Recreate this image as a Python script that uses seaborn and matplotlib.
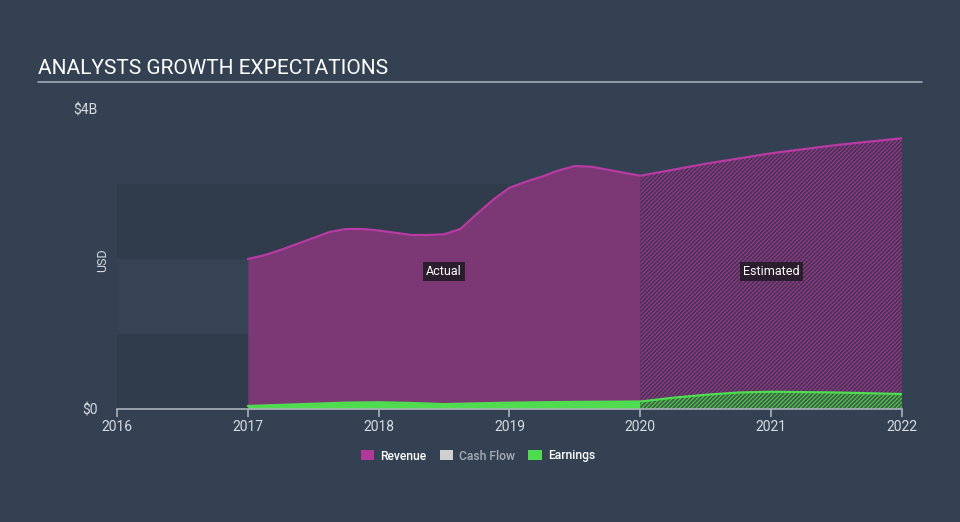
import matplotlib
matplotlib.use("Agg")
import matplotlib.pyplot as plt
import seaborn as sns
import pandas as pd
from matplotlib.patches import Patch

# ---- data (USD billions) ----
rev_act_x = [2017.0, 2017.125, 2017.25, 2017.375, 2017.5, 2017.625, 2017.75, 2017.875,
             2018.0, 2018.125, 2018.25, 2018.375, 2018.5, 2018.625, 2018.75, 2018.875,
             2019.0, 2019.125, 2019.25, 2019.375, 2019.5, 2019.625, 2019.75, 2019.875, 2020.0]
rev_act_y = [2.0, 2.05, 2.12, 2.2, 2.28, 2.36, 2.4, 2.4,
             2.38, 2.35, 2.32, 2.32, 2.33, 2.4, 2.6, 2.79,
             2.95, 3.03, 3.1, 3.18, 3.24, 3.23, 3.19, 3.15, 3.11]
rev_est_x = [2020.0, 2020.5, 2021.0, 2021.5, 2022.0]
rev_est_y = [3.11, 3.27, 3.41, 3.52, 3.61]

earn_act_x = [2017.0, 2017.5, 2017.75, 2018.0, 2018.25, 2018.5, 2018.75, 2019.0, 2019.5, 2020.0]
earn_act_y = [0.04, 0.07, 0.085, 0.09, 0.08, 0.065, 0.075, 0.085, 0.095, 0.1]
earn_est_x = [2020.0, 2020.25, 2020.5, 2020.75, 2021.0, 2021.5, 2022.0]
earn_est_y = [0.1, 0.15, 0.19, 0.22, 0.23, 0.22, 0.2]

x_ticks = [2016, 2017, 2018, 2019, 2020, 2021, 2022]
y_ticks = [0, 4]
y_tick_labels = ["$0", "$4B"]
legend_labels = ["Revenue", "Cash Flow", "Earnings"]

BG = "#334152"
BAND_DARK = "#303c4c"
BAND_MID = "#354354"
REV_LINE = "#b83ba3"
REV_FILL = "#7b3875"
EARN = "#4fdc4f"
CASH = "#cfcfcf"
TXT = "#d8dce0"

sns.set_theme(style="dark")
plt.rcParams["font.family"] = ["Roboto", "DejaVu Sans"]
plt.rcParams["hatch.linewidth"] = 0.9

fig = plt.figure(figsize=(9.6, 5.22), dpi=100, facecolor=BG)
ax = fig.add_axes([117 / 960, (522 - 409) / 522, (902 - 117) / 960, 300 / 522])
ax.set_facecolor(BG)
ax.set_xlim(2016, 2022)
ax.set_ylim(0, 4)

# background bands (past region)
for lo, hi, c in [(0, 1, BAND_DARK), (1, 2, BAND_MID), (2, 3, BAND_DARK)]:
    ax.fill_between([2016, 2020], lo, hi, color=c, lw=0, zorder=0)

# revenue actual
ax.fill_between(rev_act_x, 0, rev_act_y, color=REV_FILL, lw=0, zorder=1)
# revenue estimated hatched
ax.fill_between(rev_est_x, 0, rev_est_y, facecolor="#453352", edgecolor="#96398c",
                hatch="////////", lw=0, zorder=1)
df_rev = pd.DataFrame({"x": rev_act_x + rev_est_x[1:], "y": rev_act_y + rev_est_y[1:]})
sns.lineplot(data=df_rev, x="x", y="y", ax=ax, color=REV_LINE, lw=1.6, zorder=3)

# earnings
ax.fill_between(earn_act_x, 0, earn_act_y, color=EARN, lw=0, zorder=2)
ax.fill_between(earn_est_x, 0, earn_est_y, facecolor="#3d5a45", edgecolor="#4fc84f",
                hatch="////////", lw=0, zorder=2)
df_earn = pd.DataFrame({"x": earn_act_x + earn_est_x[1:], "y": earn_act_y + earn_est_y[1:]})
sns.lineplot(data=df_earn, x="x", y="y", ax=ax, color=EARN, lw=1.6, zorder=3)

# labels Actual / Estimated
box = dict(boxstyle="square,pad=0.25", fc="#2a1e2e", ec="none")
ax.text(2018.5, 1.83, "Actual", color="white", fontsize=9, ha="center", va="center", bbox=box, zorder=5)
ax.text(2021.0, 1.83, "Estimated", color="white", fontsize=9, ha="center", va="center", bbox=box, zorder=5)

# axes styling
for s in ["top", "right", "left"]:
    ax.spines[s].set_visible(False)
ax.spines["bottom"].set_color("#a9b1ba")
ax.spines["bottom"].set_linewidth(1.2)
ax.set_xticks(x_ticks)
ax.set_xticklabels([str(t) for t in x_ticks])
ax.tick_params(axis="x", colors="#a9b1ba", labelcolor=TXT, length=6, width=1.2,
               direction="out", bottom=True, labelsize=10, pad=2)
ax.set_yticks(y_ticks)
ax.set_yticklabels(y_tick_labels)
ax.tick_params(axis="y", length=0, labelcolor=TXT, labelsize=10, pad=14)
ax.set_xlabel("")
ax.set_ylabel("")
ax.grid(False)

fig.text(103 / 960, 1 - 260 / 522, "USD", rotation=90, color=TXT, fontsize=9,
         ha="center", va="center")

# title & underline
fig.text(38 / 960, 1 - 68 / 522, "ANALYSTS GROWTH EXPECTATIONS", color="white",
         fontsize=15, ha="left", va="center")
fig.add_artist(plt.Line2D([38 / 960, 922 / 960], [1 - 82 / 522, 1 - 82 / 522],
                          color="#9aa2ab", lw=1.3))

# legend
handles = [Patch(facecolor="#b0399a", edgecolor="none"),
           Patch(facecolor=CASH, edgecolor="none"),
           Patch(facecolor=EARN, edgecolor="none")]
leg = fig.legend(handles, legend_labels, loc="center", bbox_to_anchor=(478 / 960, 1 - 456 / 522),
                 ncol=3, frameon=False, fontsize=8.7, handlelength=1.1, handleheight=0.9,
                 columnspacing=1.1, handletextpad=0.5)
for t, c in zip(leg.get_texts(), ["white", "#a8aeb5", "white"]):
    t.set_color(c)
    t.set_fontweight("medium")

fig.savefig("out.png", dpi=100, facecolor=BG)
